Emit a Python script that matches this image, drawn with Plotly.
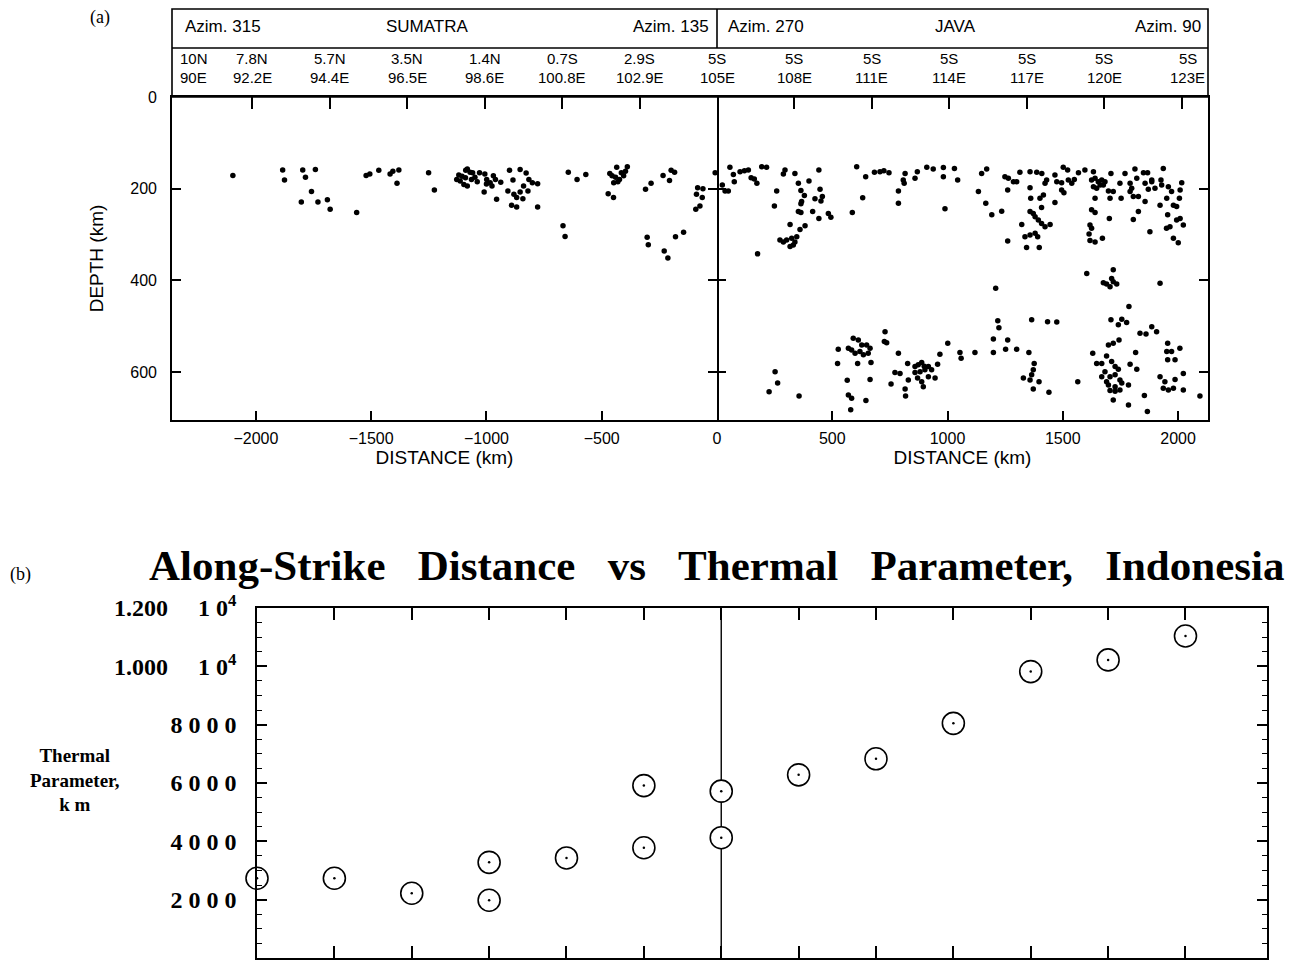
import plotly.graph_objects as go

W, H = 1299, 965

# ---------------- DATA ----------------
# Panel (a): hypocentres, (along-strike distance km, depth km)
sumatra_events = [
    (-2100, 171), (-1884, 159), (-1876, 181), (-1797, 159), (-1785, 175), (-1742, 158),
    (-1759, 206), (-1803, 229), (-1731, 229), (-1690, 224), (-1678, 245), (-1563, 252),
    (-1522, 171), (-1506, 168), (-1467, 160), (-1418, 168), (-1406, 162), (-1380, 159),
    (-1388, 188), (-1251, 165), (-1226, 203), (-1129, 180), (-1114, 183), (-1091, 176),
    (-1083, 157), (-1071, 164), (-1098, 191), (-1083, 194), (-1106, 173), (-1060, 165),
    (-1030, 165), (-1007, 168), (-999, 180), (-984, 187), (-961, 180), (-938, 186),
    (-976, 194), (-1010, 207), (-956, 223), (-900, 160), (-885, 181), (-854, 158),
    (-828, 166), (-816, 180), (-801, 187), (-778, 189), (-907, 205), (-881, 212),
    (-869, 219), (-854, 207), (-839, 194), (-820, 205), (-842, 222), (-891, 236),
    (-869, 240), (-778, 240), (-645, 164), (-607, 180), (-569, 169), (-668, 281),
    (-659, 304), (-465, 167), (-435, 153), (-455, 172), (-423, 180), (-405, 172),
    (-389, 152), (-397, 162), (-448, 187), (-472, 211), (-449, 219), (-310, 201),
    (-286, 188), (-234, 171), (-206, 182), (-199, 160), (-184, 164), (-303, 306),
    (-298, 322), (-229, 336), (-213, 351), (-180, 305), (-145, 295), (-84, 198),
    (-61, 200), (-89, 212), (-64, 219), (-92, 245), (-74, 238), (-8, 165),
    (-1120, 170), (-1050, 175), (-1040, 185), (-1000, 190), (-970, 172), (-1065, 180),
    (-1090, 160), (-440, 175), (-430, 185), (-415, 165),
]

java_events = [
    (23, 192), (56, 153), (71, 169), (75, 185), (49, 205), (35, 205), (100, 163), (119, 161),
    (136, 159), (148, 176), (162, 179), (173, 188), (194, 152), (215, 153), (259, 205),
    (249, 238), (295, 159), (288, 168), (338, 167), (353, 188), (364, 204), (379, 215),
    (367, 228), (364, 233), (399, 183), (442, 159), (447, 201), (425, 222), (457, 217),
    (451, 227), (353, 250), (364, 252), (415, 250), (442, 265), (483, 254), (494, 262),
    (317, 278), (360, 289), (382, 281), (273, 312), (288, 316), (302, 312), (324, 308),
    (346, 305), (338, 316), (317, 326), (331, 323), (176, 342), (587, 252), (606, 152),
    (632, 220), (645, 174), (683, 164), (707, 163), (724, 161), (746, 165), (787, 205),
    (787, 232), (808, 181), (812, 188), (816, 167), (859, 177), (869, 163), (910, 153),
    (938, 157), (982, 154), (982, 174), (989, 244), (1030, 156), (1044, 181), (1134, 206),
    (1148, 167), (1170, 157), (1166, 232), (1192, 257), (1235, 249), (1249, 174),
    (1264, 177), (1286, 185), (1300, 185), (1261, 203), (1314, 164), (1358, 163),
    (1387, 164), (1409, 167), (1358, 198), (1361, 221), (1358, 250), (1372, 254),
    (1380, 261), (1401, 221), (1408, 241), (1416, 214), (1423, 188), (1430, 181),
    (1394, 268), (1408, 276), (1423, 283), (1445, 278), (1322, 278), (1336, 305),
    (1358, 301), (1380, 297), (1391, 305), (1343, 328), (1398, 328), (1261, 314),
    (1466, 170), (1474, 185), (1495, 187), (1502, 153), (1521, 159), (1495, 203),
    (1505, 209), (1466, 230), (1524, 181), (1539, 188), (1550, 180), (1568, 165),
    (1596, 159), (1633, 163), (1625, 181), (1640, 177), (1654, 185), (1669, 181),
    (1683, 185), (1633, 196), (1647, 199), (1662, 192), (1676, 192), (1640, 221),
    (1709, 167), (1705, 221), (1719, 206), (1698, 205), (1753, 221), (1748, 188),
    (1770, 167), (1792, 188), (1799, 199), (1792, 206), (1813, 157), (1821, 177),
    (1806, 217), (1828, 217), (1850, 165), (1868, 165), (1857, 188), (1886, 181),
    (1871, 201), (1857, 228), (1886, 185), (1900, 199), (1936, 156), (1926, 181),
    (1929, 192), (1958, 196), (1972, 206), (1951, 221), (1922, 236), (1980, 236),
    (1994, 239), (2006, 221), (2009, 203), (2016, 187), (1625, 246), (1640, 252),
    (1618, 279), (1625, 286), (1614, 299), (1618, 313), (1640, 316), (1672, 308),
    (1702, 265), (1806, 267), (1828, 250), (1878, 294), (1955, 257), (1950, 286),
    (1965, 283), (1994, 268), (2009, 265), (2023, 279), (1980, 308), (2001, 318),
    (1604, 385), (1719, 377), (1676, 405), (1690, 408), (1705, 414), (1719, 403),
    (1734, 408), (1712, 396), (1922, 406), (1787, 457), (1209, 417), (1218, 488),
    (1223, 503), (1365, 486), (1434, 490), (1474, 491), (1709, 486), (1741, 497),
    (1756, 485), (1777, 492), (1886, 501),
    (729, 512), (726, 533), (736, 536), (591, 526), (613, 530), (628, 541), (649, 541),
    (570, 548), (584, 552), (599, 559), (620, 555), (635, 562), (656, 559), (664, 548),
    (526, 550), (523, 581), (610, 581), (668, 579), (565, 618), (664, 616), (570, 650),
    (584, 657), (580, 682), (646, 662), (252, 599), (263, 624), (226, 643), (356, 652),
    (787, 559), (827, 581), (772, 601), (794, 603), (755, 626), (816, 637), (818, 652),
    (830, 617), (859, 588), (873, 584), (888, 579), (899, 587), (859, 601), (881, 599),
    (902, 595), (917, 588), (870, 613), (888, 621), (895, 632), (917, 610), (931, 595),
    (946, 613), (957, 583), (967, 561), (1001, 537), (1054, 557), (1059, 570),
    (1119, 557), (1199, 528), (1199, 557), (1261, 530), (1252, 550), (1300, 550),
    (1353, 557), (1376, 581), (1372, 595), (1365, 606), (1329, 613), (1358, 617),
    (1397, 621), (1372, 637), (1440, 644), (1565, 621), (1630, 559), (1647, 581),
    (1669, 581), (1690, 565), (1698, 541), (1719, 537), (1744, 530), (1712, 577),
    (1727, 588), (1741, 594), (1683, 599), (1669, 610), (1705, 610), (1727, 606),
    (1690, 621), (1748, 617), (1698, 628), (1727, 632), (1756, 624), (1785, 628),
    (1705, 640), (1727, 642), (1748, 639), (1719, 661), (1785, 672), (1792, 583),
    (1816, 557), (1821, 594), (1835, 515), (1861, 517), (1854, 651), (1867, 686),
    (1907, 512), (1955, 537), (1951, 555), (1972, 555), (2008, 548), (1955, 573),
    (1987, 573), (1922, 610), (1943, 621), (1987, 616), (2023, 603), (1936, 635),
    (1958, 639), (1980, 635), (2023, 639), (2095, 652),
]

sumatra_dist = [p[0] for p in sumatra_events]
sumatra_depth = [p[1] for p in sumatra_events]
java_dist = [p[0] for p in java_events]
java_depth = [p[1] for p in java_events]

# header station ticks (distance km) and labels
sumatra_station_x = [-2364, -2016, -1680, -1344, -1008, -672, -336, 0]
sumatra_station_lat = ["10N", "7.8N", "5.7N", "3.5N", "1.4N", "0.7S", "2.9S", "5S"]
sumatra_station_lon = ["90E", "92.2E", "94.4E", "96.5E", "98.6E", "100.8E", "102.9E", "105E"]
java_station_x = [336, 672, 1008, 1344, 1680, 2016]
java_station_lat = ["5S", "5S", "5S", "5S", "5S", "5S"]
java_station_lon = ["108E", "111E", "114E", "117E", "120E", "123E"]

sumatra_dist_ticks = [-2000, -1500, -1000, -500, 0]
java_dist_ticks = [500, 1000, 1500, 2000]
depth_ticks = [0, 200, 400, 600]

# Panel (b): thermal parameter at stations
thermal_x = [-2016, -1680, -1344, -1008, -1008, -672, -336, -336, 0, 0,
             336, 672, 1008, 1344, 1680, 2016]
thermal_y = [2735, 2735, 2220, 3280, 1980, 3430, 3780, 5910, 5720, 4125,
             6280, 6830, 8045, 9820, 10220, 11040]
station_ticks = [-1680, -1344, -1008, -672, -336, 0, 336, 672, 1008, 1344, 1680, 2016]
thermal_ticks = [0, 2000, 4000, 6000, 8000, 10000, 12000]
thermal_ticktext = ["0", "2 0 0 0", "4 0 0 0", "6 0 0 0", "8 0 0 0",
                    "1.000\u00a0\u00a0\u00a0\u00a0\u00a01 0<sup>4</sup>",
                    "1.200\u00a0\u00a0\u00a0\u00a0\u00a01 0<sup>4</sup>"]

# ---------------- LAYOUT HELPERS ----------------
def fx(p):
    return p / W

def fy(p):
    return 1 - p / H

SANS = "Liberation Sans, Arial, sans-serif"
SERIF = "Liberation Serif, Times New Roman, serif"
LW = 1.6

A_TOP, A_BOT = 97, 420
A_L, A_M, A_R = 172, 717, 1208
B_L, B_R, B_TOP, B_BOT = 257, 1267, 608, 958

fig = go.Figure()

mk = dict(size=5.5, color="black")
fig.add_trace(go.Scatter(x=sumatra_dist, y=sumatra_depth, mode="markers", marker=mk,
                         xaxis="x", yaxis="y", showlegend=False, hoverinfo="skip"))
fig.add_trace(go.Scatter(x=java_dist, y=java_depth, mode="markers", marker=mk,
                         xaxis="x2", yaxis="y2", showlegend=False, hoverinfo="skip"))
# empty traces so that the extra frame axes get drawn
fig.add_trace(go.Scatter(x=[], y=[], xaxis="x3", yaxis="y", showlegend=False))
fig.add_trace(go.Scatter(x=[], y=[], xaxis="x4", yaxis="y2", showlegend=False))
fig.add_trace(go.Scatter(x=[], y=[], xaxis="x2", yaxis="y4", showlegend=False))

fig.add_trace(go.Scatter(x=thermal_x, y=thermal_y, mode="markers",
                         marker=dict(symbol="circle", size=22, color="white",
                                     line=dict(color="black", width=1.6)),
                         xaxis="x5", yaxis="y3", cliponaxis=False, showlegend=False))
fig.add_trace(go.Scatter(x=thermal_x, y=thermal_y, mode="markers",
                         marker=dict(size=2.5, color="black"),
                         xaxis="x5", yaxis="y3", cliponaxis=False, showlegend=False))

axcommon = dict(showgrid=False, zeroline=False, showline=True, linecolor="black",
                linewidth=LW, ticks="inside", tickcolor="black", tickwidth=LW,
                automargin=False)
DEPTH_RANGE = [(A_BOT - A_TOP) / 0.4585, 0]
tf = dict(family=SANS, size=16, color="black")
ttl = dict(family=SANS, size=19, color="black")

fig.update_layout(
    width=W, height=H, margin=dict(l=0, r=0, t=0, b=0, autoexpand=False),
    paper_bgcolor="white", plot_bgcolor="white",
    xaxis=dict(axcommon, domain=[fx(A_L), fx(A_M)], range=[-2364, 0], anchor="y",
               tickvals=sumatra_dist_ticks, ticklen=9, ticklabelstandoff=3,
               tickfont=tf, title=dict(text="DISTANCE (km)", font=ttl, standoff=2)),
    yaxis=dict(axcommon, domain=[fy(A_BOT), fy(A_TOP)], range=DEPTH_RANGE, anchor="x",
               tickvals=depth_ticks, ticklen=9, mirror="ticks", ticklabelstandoff=10,
               tickfont=tf, title=dict(text="DEPTH (km)", font=ttl, standoff=22)),
    xaxis2=dict(axcommon, domain=[fx(A_M), fx(A_R)], range=[0, 2130], anchor="y2",
                tickvals=java_dist_ticks, ticklen=9, ticklabelstandoff=3,
                tickfont=tf, title=dict(text="DISTANCE (km)", font=ttl, standoff=2)),
    yaxis2=dict(axcommon, domain=[fy(A_BOT), fy(A_TOP)], range=DEPTH_RANGE, anchor="x2",
                tickvals=depth_ticks[1:], ticklen=9, showline=False,
                showticklabels=False),
    yaxis4=dict(axcommon, overlaying="y2", side="right", anchor="x2", range=DEPTH_RANGE,
                tickvals=depth_ticks[1:], ticklen=9, showticklabels=False),
    xaxis3=dict(axcommon, overlaying="x", side="top", anchor="y", range=[-2364, 0],
                tickvals=sumatra_station_x[1:-1], ticklen=12, showticklabels=False),
    xaxis4=dict(axcommon, overlaying="x2", side="top", anchor="y2", range=[0, 2130],
                tickvals=java_station_x, ticklen=12, showticklabels=False),
    xaxis5=dict(axcommon, domain=[fx(B_L), fx(B_R)], range=[-2016, 2370], anchor="y3",
                tickvals=station_ticks, ticklen=12, mirror="ticks", showticklabels=False),
    yaxis3=dict(axcommon, domain=[fy(B_BOT), fy(B_TOP)], range=[0, 12000], anchor="x5",
                tickvals=thermal_ticks, ticktext=thermal_ticktext, ticklen=10,
                mirror="ticks", ticklabelstandoff=14,
                minor=dict(ticks="inside", ticklen=5, tickwidth=1, tickcolor="black",
                           dtick=500, tick0=0),
                tickfont=dict(family=SERIF, size=24, color="black", weight="bold")),
)

shapes = []
line = dict(color="black", width=LW)
# header box of panel (a)
shapes.append(dict(type="rect", xref="paper", yref="paper", x0=fx(A_L), x1=fx(A_R),
                   y0=fy(A_TOP), y1=fy(9), line=line))
shapes.append(dict(type="line", xref="paper", yref="paper", x0=fx(A_L), x1=fx(A_R),
                   y0=fy(48), y1=fy(48), line=line))
shapes.append(dict(type="line", xref="paper", yref="paper", x0=fx(A_M), x1=fx(A_M),
                   y0=fy(9), y1=fy(48), line=line))
# zero-distance line in panel (b)
shapes.append(dict(type="line", xref="x5", yref="y3", x0=0, x1=0, y0=0, y1=12000,
                   line=dict(color="black", width=1.4), layer="below"))
fig.update_layout(shapes=shapes)

ann = []
hf = dict(family=SANS, size=17, color="black")
row1 = fy(27)
ann += [
    dict(text="Azim. 315", x=fx(183), y=row1, xanchor="left"),
    dict(text="SUMATRA", x=fx(427), y=row1, xanchor="center"),
    dict(text="Azim. 135", x=fx(711), y=row1, xanchor="right"),
    dict(text="Azim. 270", x=fx(726), y=row1, xanchor="left"),
    dict(text="JAVA", x=fx(955), y=row1, xanchor="center"),
    dict(text="Azim. 90", x=fx(1203), y=row1, xanchor="right"),
]
for a in ann:
    a.update(xref="paper", yref="paper", yanchor="middle", showarrow=False, font=hf)

sf = dict(family=SANS, size=15, color="black")
lat_y, lon_y = fy(59), fy(77)

def station_label(xref, xv, lat, lon, xanchor="center", xshift=0):
    for txt, yy in ((lat, lat_y), (lon, lon_y)):
        ann.append(dict(text=txt, x=xv, xref=xref, y=yy, yref="paper", xanchor=xanchor,
                        xshift=xshift, yanchor="middle", showarrow=False, font=sf,
                        borderpad=0))

for i, (xv, la, lo) in enumerate(zip(sumatra_station_x, sumatra_station_lat,
                                     sumatra_station_lon)):
    if i == 0:
        station_label("x", xv, la, lo, xanchor="left", xshift=7)
    else:
        station_label("x", xv, la, lo)
for i, (xv, la, lo) in enumerate(zip(java_station_x, java_station_lat, java_station_lon)):
    station_label("x2", xv, la, lo, xshift=6 if i == len(java_station_x) - 1 else 0)

ann.append(dict(text="(a)", x=fx(100), y=fy(18), xref="paper", yref="paper",
                xanchor="center", yanchor="middle", showarrow=False,
                font=dict(family=SERIF, size=18, color="black")))
ann.append(dict(text="(b)", x=fx(20), y=fy(574), xref="paper", yref="paper",
                xanchor="center", yanchor="middle", showarrow=False,
                font=dict(family=SERIF, size=18, color="black")))
sp = "\u00a0\u00a0\u00a0"
title = sp.join(["Along-Strike", "Distance", "vs", "Thermal", "Parameter,", "Indonesia"])
ann.append(dict(text="<b>" + title + "</b>", x=fx(716), y=fy(565), xref="paper",
                yref="paper", xanchor="center", yanchor="middle", showarrow=False,
                font=dict(family=SERIF, size=43, color="black")))
ann.append(dict(text="<b>Thermal<br>Parameter,<br>k m</b>", x=fx(75), y=fy(780),
                xref="paper", yref="paper", xanchor="center", yanchor="middle",
                showarrow=False, align="center",
                font=dict(family=SERIF, size=19, color="black")))
fig.update_layout(annotations=ann)

fig.write_html("out.html")
